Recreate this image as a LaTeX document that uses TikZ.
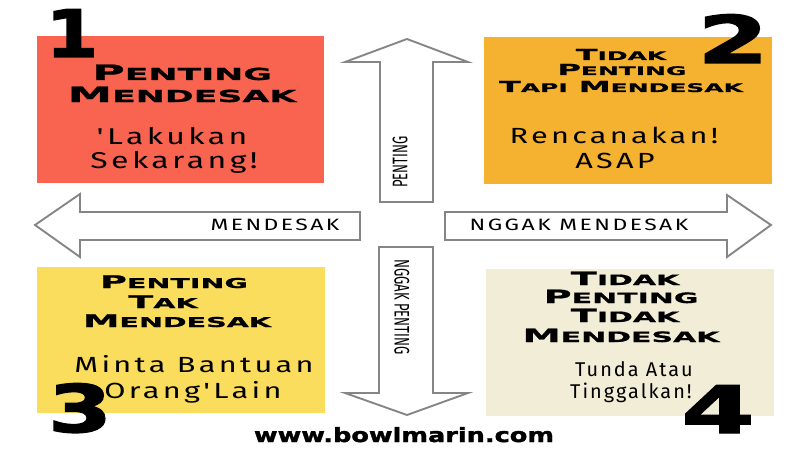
\documentclass[tikz,border=0pt]{standalone}
\usepackage{fontspec}
\newfontfamily\headfont[FakeStretch=2.1,FakeBold=1]{DejaVu Sans}
\newfontfamily\handfont[FakeStretch=1.4,LetterSpace=15]{Fira Sans}
\newfontfamily\handnarrow[LetterSpace=10]{Fira Sans}
\newfontfamily\handthin[FakeStretch=0.62]{Fira Sans}
\newfontfamily\numfont[FakeBold=2]{DejaVu Sans}
\newfontfamily\sitefont[FakeStretch=1.3,FakeBold=2]{DejaVu Sans}
\newcommand\capword[2]{#1\scalebox{0.78}{#2}}
\definecolor{doredcol}{HTML}{F96450}
\definecolor{planorange}{HTML}{F5B130}
\definecolor{delegateyellow}{HTML}{FBDD5E}
\definecolor{dropbeige}{HTML}{F2EDD6}
\definecolor{arrowgray}{HTML}{858585}

\begin{document}
\begin{tikzpicture}[x=0.03cm,y=-0.03cm,
  blockarrow/.style={draw=arrowgray, line width=1.6pt, fill=white, line join=miter},
  headline/.style={anchor=base, inner sep=0pt, font=\headfont\bfseries},
  handline/.style={anchor=base, inner sep=0pt, font=\handfont},
  bignum/.style={anchor=base, inner sep=0pt, font=\numfont\bfseries\fontsize{56}{56}\selectfont}]

\useasboundingbox[fill=white] (0,0) rectangle (800,450);

% Draw the four quadrants
\fill[doredcol] (37,36) rectangle (324,183);
\fill[planorange] (484,37) rectangle (772,184);
\fill[delegateyellow] (37,267) rectangle (325,413);
\fill[dropbeige] (486,269) rectangle (774,416);

% Draw the block arrows
\draw[blockarrow] (380,202) -- (380,62) -- (345,62) -- (407,39) -- (468,62) -- (433,62) -- (433,202) -- cycle;
\draw[blockarrow] (379,247) -- (379,393) -- (345,393) -- (407,415) -- (468,393) -- (433,393) -- (433,247) -- cycle;
\draw[blockarrow] (360,212) -- (80,212) -- (80,194) -- (35,225) -- (80,257) -- (80,240) -- (360,240) -- cycle;
\draw[blockarrow] (445,212) -- (727,212) -- (727,195) -- (771,225) -- (727,257) -- (727,240) -- (445,240) -- cycle;

% Label the arrows
\node[handline, font=\handfont\fontsize{14}{14}\selectfont] (urgent) at (275,230) {MENDESAK};
\node[handline, font=\handfont\fontsize{14}{14}\selectfont] (noturgent) at (579,230) {NGGAK MENDESAK};
\node[inner sep=0pt, rotate=90, font=\handthin\fontsize{18}{18}\selectfont] (important) at (400,162) {PENTING};
\node[inner sep=0pt, rotate=-90, font=\handthin\fontsize{18}{18}\selectfont] (notimportant) at (402,307) {NGGAK PENTING};

% Quadrant 1
\node[headline, font=\headfont\bfseries\fontsize{18.1}{18.1}\selectfont] (q1a) at (182,80) {\capword{P}{ENTING}};
\node[headline, font=\headfont\bfseries\fontsize{18.1}{18.1}\selectfont] (q1b) at (182,102) {\capword{M}{ENDESAK}};
\node[handline, font=\handfont\fontsize{19.5}{19.5}\selectfont] (q1c) at (172,145) {'Lakukan};
\node[handline, font=\handfont\fontsize{19.5}{19.5}\selectfont] (q1d) at (174,168) {Sekarang!};

% Quadrant 2
\node[headline, font=\headfont\bfseries\fontsize{13}{13}\selectfont] (q2a) at (621,60) {\capword{T}{IDAK}};
\node[headline, font=\headfont\bfseries\fontsize{13}{13}\selectfont] (q2b) at (622,75) {\capword{P}{ENTING}};
\node[headline, font=\headfont\bfseries\fontsize{13}{13}\selectfont] (q2c) at (621,92) {\capword{T}{API} \capword{M}{ENDESAK}};
\node[handline, font=\handfont\fontsize{18.7}{18.7}\selectfont] (q2d) at (614,143) {Rencanakan!};
\node[handline, font=\handfont\fontsize{18.7}{18.7}\selectfont] (q2e) at (615,168) {ASAP};

% Quadrant 3
\node[headline, font=\headfont\bfseries\fontsize{14.9}{14.9}\selectfont] (q3a) at (174,288) {\capword{P}{ENTING}};
\node[headline, font=\headfont\bfseries\fontsize{14.9}{14.9}\selectfont] (q3b) at (163,308) {\capword{T}{AK}};
\node[headline, font=\headfont\bfseries\fontsize{14.9}{14.9}\selectfont] (q3c) at (177,327) {\capword{M}{ENDESAK}};
\node[handline, font=\handfont\fontsize{18.7}{18.7}\selectfont] (q3d) at (194,372) {Minta Bantuan};
\node[handline, font=\handfont\fontsize{18.7}{18.7}\selectfont] (q3e) at (193,398) {Orang'Lain};

% Quadrant 4
\node[headline, font=\headfont\bfseries\fontsize{15.6}{15.6}\selectfont] (q4a) at (625,285) {\capword{T}{IDAK}};
\node[headline, font=\headfont\bfseries\fontsize{15.6}{15.6}\selectfont] (q4b) at (621,303) {\capword{P}{ENTING}};
\node[headline, font=\headfont\bfseries\fontsize{15.6}{15.6}\selectfont] (q4c) at (625,322) {\capword{T}{IDAK}};
\node[headline, font=\headfont\bfseries\fontsize{15.6}{15.6}\selectfont] (q4d) at (621,342) {\capword{M}{ENDESAK}};
\node[handline, font=\handnarrow\fontsize{17}{17}\selectfont] (q4e) at (634,376) {Tunda Atau};
\node[handline, font=\handnarrow\fontsize{17}{17}\selectfont] (q4f) at (631,398) {Tinggalkan!};

% Draw the quadrant numbers
\node[bignum] (n1) at (72,57) {\scalebox{1.15}[1]{1}};
\node[bignum] (n2) at (733,63) {\scalebox{1.55}[1]{2}};
\node[bignum] (n3) at (80,432) {\scalebox{1.4}[1]{3}};
\node[bignum] (n4) at (718,433) {\scalebox{1.6}[1]{4}};

% Website
\node[anchor=base, inner sep=0pt, font=\sitefont\bfseries\fontsize{16.8}{16.8}\selectfont] (site) at (404,442) {www.bowlmarin.com};

\end{tikzpicture}
\end{document}
